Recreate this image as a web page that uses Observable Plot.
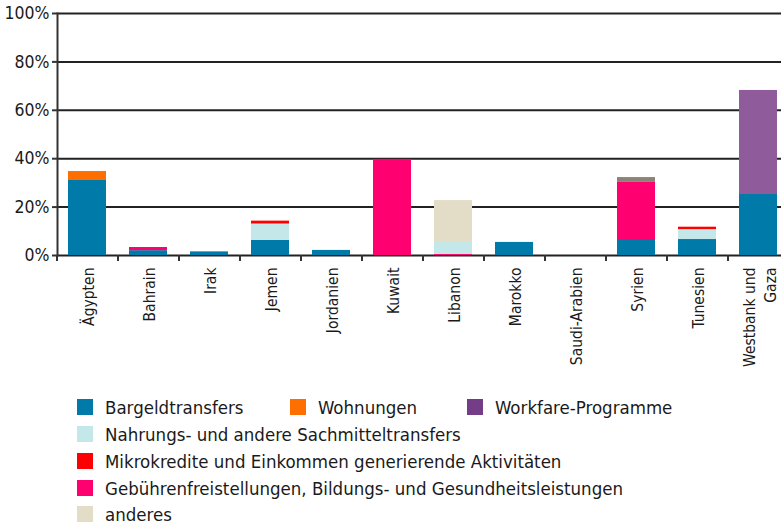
<!DOCTYPE html>
<html><head><meta charset="utf-8">
<script src="https://cdn.jsdelivr.net/npm/d3@7"></script>
<script src="https://cdn.jsdelivr.net/npm/@observablehq/plot@0.6"></script>
<style>
body{margin:0;background:#fff;font-family:"DejaVu Sans Condensed","Liberation Sans Narrow",sans-serif;}
#legend{position:relative;width:781px;height:142px;}
.item{position:absolute;display:flex;align-items:center;height:20px;font-size:18.5px;color:#1a1a1a;white-space:nowrap}
.sw{width:16px;height:16px;margin-right:12px;flex:none}
</style></head><body><div id="chart"></div><div id="legend"></div>
<script>
const countries = ["Ägypten","Bahrain","Irak","Jemen","Jordanien","Kuwait","Libanon","Marokko","Saudi-Arabien","Syrien","Tunesien","Westbank und Gaza"];
const bargeld   = [31, 2, 1.5, 6.2, 2.1, 0, 0, 5.4, 0, 6.2, 6.6, 25.2];
const wohnungen = [3.7, 0, 0, 0, 0, 0, 0, 0, 0, 0, 0, 0];
const gebuehren = [0, 1.3, 0, 0, 0, 39.7, 0.4, 0, 0, 24, 0, 0];
const nahrung   = [0, 0, 0, 6.8, 0, 0, 5.4, 0, 0, 0, 4.1, 0];
const mikro     = [0, 0, 0, 1.2, 0, 0, 0, 0, 0, 0, 1.0, 0];
const workfare  = [0, 0, 0, 0, 0, 0, 0, 0, 0, 0, 0, 43];
const anderes   = [0, 0, 0, 0, 0, 0, 16.9, 0, 0, 0, 0, 0];
const sonstige  = [0, 0, 0, 0, 0, 0, 0, 0, 0, 2, 0, 0];
const yTicks = [0, 20, 40, 60, 80, 100];

const seriesNames = ["Bargeldtransfers","Wohnungen","Gebührenfreistellungen, Bildungs- und Gesundheitsleistungen","Nahrungs- und andere Sachmitteltransfers","Mikrokredite und Einkommen generierende Aktivitäten","Workfare-Programme","anderes","sonstige"];
const seriesValues = [bargeld, wohnungen, gebuehren, nahrung, mikro, workfare, anderes, sonstige];
const seriesColors = ["#007aa8","#ff6f00","#ff0070","#c4e8ea","#ff0000","#8f5b9b","#e3dcc7","#8a8477"];

const legendNames = ["Bargeldtransfers","Wohnungen","Workfare-Programme","Nahrungs- und andere Sachmitteltransfers","Mikrokredite und Einkommen generierende Aktivitäten","Gebührenfreistellungen, Bildungs- und Gesundheitsleistungen","anderes"];
const legendColors = ["#007aa8","#ff6f00","#753d88","#c4e8ea","#ff0000","#ff0070","#e3dcc7"];

const data = [];
seriesNames.forEach((s, si) => countries.forEach((c, ci) => {
  if (seriesValues[si][ci] > 0) data.push({country: c, series: s, value: seriesValues[si][ci]});
}));

const font = '"DejaVu Sans Condensed","Liberation Sans Narrow",sans-serif';
const chart = Plot.plot({
  width: 781, height: 385,
  marginLeft: 57, marginRight: -8, marginTop: 13, marginBottom: 130,
  style: {fontFamily: font, fontSize: "17.5px", color: "#1a1a1a", background: "#fff", overflow: "visible"},
  x: {domain: countries, paddingInner: 0.377, paddingOuter: 0.1885, label: null},
  y: {domain: [0, 100], label: null},
  color: {domain: seriesNames, range: seriesColors},
  marks: [
    Plot.ruleY(yTicks, {stroke: "#222", strokeWidth: 2}),
    Plot.barY(data, {x: "country", y: "value", fill: "series"}),
    Plot.ruleX(countries, {x: d => d, dx: -30.5, y1: 0, y2: 0, insetBottom: -6, stroke: "#333", strokeWidth: 2}),
    Plot.frame({anchor: "left", stroke: "#333", strokeWidth: 2}),
    Plot.axisY(yTicks, {tickSize: 5, tickPadding: 3, strokeWidth: 2, stroke: "#333", tickFormat: d => d + "%", fontSize: 17.5, label: null}),
    Plot.axisX({tickSize: 0, tickPadding: 12, tickRotate: -90, fontSize: 15.5, textAnchor: "end", lineAnchor: "middle", lineHeight: 1.35, label: null,
      tickFormat: d => d === "Westbank und Gaza" ? "Westbank und\nGaza" : d})
  ]
});
document.getElementById("chart").append(chart);

const pos = [[77,12],[290,12],[467,12],[77,39],[77,66],[77,93],[77,119]];
const leg = document.getElementById("legend");
legendNames.forEach((n, i) => {
  const it = document.createElement("div");
  it.className = "item";
  it.style.left = pos[i][0] + "px";
  it.style.top = pos[i][1] + "px";
  const sw = document.createElement("span");
  sw.className = "sw";
  sw.style.background = legendColors[i];
  it.append(sw, document.createTextNode(n));
  leg.append(it);
});
</script></body></html>
